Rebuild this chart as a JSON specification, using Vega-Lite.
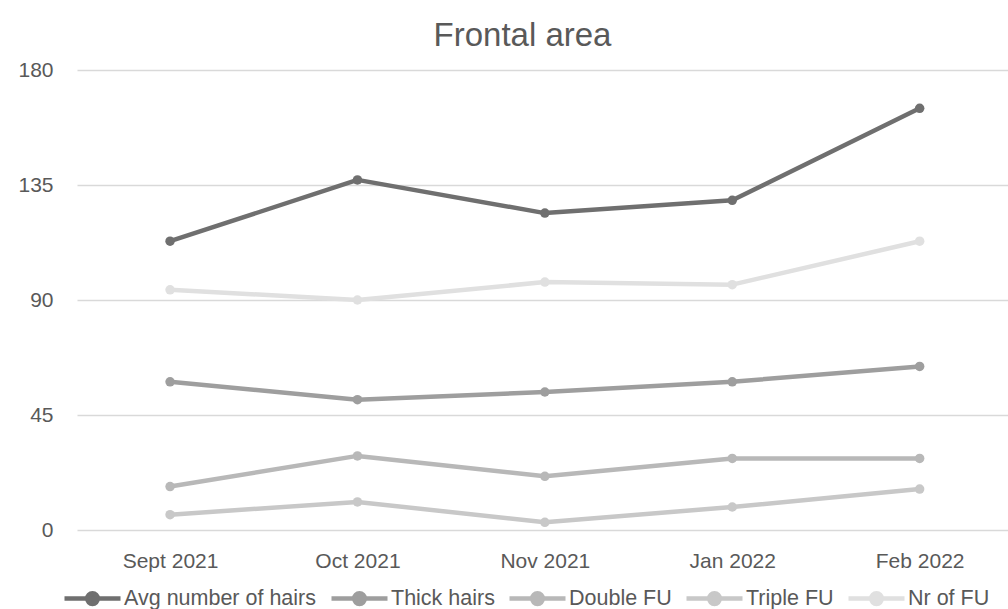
{
  "$schema": "https://vega.github.io/schema/vega-lite/v6.json",
  "width": 931,
  "height": 460,
  "autosize": {"type": "none"},
  "padding": {"left": 77, "top": 70, "right": 0, "bottom": 79},
  "background": "white",
  "config": {
    "view": {"stroke": null},
    "font": "Liberation Sans"
  },
  "title": {
    "text": "Frontal area",
    "fontSize": 33,
    "fontWeight": "normal",
    "color": "#595959",
    "font": "Liberation Sans",
    "frame": "group",
    "anchor": "middle",
    "baseline": "alphabetic",
    "offset": 24,
    "dx": -20,
    "dy": 44
  },
  "data": {
    "values": [
      {"month": "Sept 2021", "series": "Avg number of hairs", "value": 113},
      {"month": "Oct 2021", "series": "Avg number of hairs", "value": 137},
      {"month": "Nov 2021", "series": "Avg number of hairs", "value": 124},
      {"month": "Jan 2022", "series": "Avg number of hairs", "value": 129},
      {"month": "Feb 2022", "series": "Avg number of hairs", "value": 165},
      {"month": "Sept 2021", "series": "Thick hairs", "value": 58},
      {"month": "Oct 2021", "series": "Thick hairs", "value": 51},
      {"month": "Nov 2021", "series": "Thick hairs", "value": 54},
      {"month": "Jan 2022", "series": "Thick hairs", "value": 58},
      {"month": "Feb 2022", "series": "Thick hairs", "value": 64},
      {"month": "Sept 2021", "series": "Double FU", "value": 17},
      {"month": "Oct 2021", "series": "Double FU", "value": 29},
      {"month": "Nov 2021", "series": "Double FU", "value": 21},
      {"month": "Jan 2022", "series": "Double FU", "value": 28},
      {"month": "Feb 2022", "series": "Double FU", "value": 28},
      {"month": "Sept 2021", "series": "Triple FU", "value": 6},
      {"month": "Oct 2021", "series": "Triple FU", "value": 11},
      {"month": "Nov 2021", "series": "Triple FU", "value": 3},
      {"month": "Jan 2022", "series": "Triple FU", "value": 9},
      {"month": "Feb 2022", "series": "Triple FU", "value": 16},
      {"month": "Sept 2021", "series": "Nr of FU", "value": 94},
      {"month": "Oct 2021", "series": "Nr of FU", "value": 90},
      {"month": "Nov 2021", "series": "Nr of FU", "value": 97},
      {"month": "Jan 2022", "series": "Nr of FU", "value": 96},
      {"month": "Feb 2022", "series": "Nr of FU", "value": 113}
    ]
  },
  "encoding": {
    "x": {
      "field": "month",
      "type": "ordinal",
      "sort": ["Sept 2021", "Oct 2021", "Nov 2021", "Jan 2022", "Feb 2022"],
      "scale": {"type": "point", "padding": 0.484, "align": 0.513},
      "axis": {
        "title": null,
        "labelAngle": 0,
        "labelFontSize": 21,
        "labelColor": "#595959",
        "labelPadding": 20,
        "ticks": false,
        "domain": false,
        "grid": false
      }
    },
    "y": {
      "field": "value",
      "type": "quantitative",
      "scale": {"domain": [0, 180], "nice": false},
      "axis": {
        "title": null,
        "values": [0, 45, 90, 135, 180],
        "labelFontSize": 21,
        "labelColor": "#595959",
        "labelPadding": 24,
        "ticks": false,
        "domain": false,
        "grid": true,
        "gridColor": "#d9d9d9",
        "gridWidth": 1.5
      }
    },
    "color": {
      "field": "series",
      "type": "nominal",
      "sort": ["Avg number of hairs", "Thick hairs", "Double FU", "Triple FU", "Nr of FU"],
      "scale": {
        "domain": ["Avg number of hairs", "Thick hairs", "Double FU", "Triple FU", "Nr of FU"],
        "range": ["#6f6f6f", "#9e9e9e", "#b8b8b8", "#c8c8c8", "#e0e0e0"]
      },
      "legend": {
        "title": null,
        "orient": "none",
        "direction": "horizontal",
        "legendX": -15,
        "legendY": 498,
        "labelFontSize": 21.5,
        "labelColor": "#595959",
        "labelOffset": 1,
        "labelLimit": 400,
        "columnPadding": 5,
        "symbolType": "M-1,0L1,0M-0.19,0A0.19,0.19 0 1,1 0.19,0A0.19,0.19 0 1,1 -0.19,0Z",
        "symbolSize": 3136,
        "symbolStrokeWidth": 4.5,
        "encode": {
          "symbols": {
            "update": {
              "fill": {"scale": "color", "field": "value"},
              "stroke": {"scale": "color", "field": "value"},
              "strokeWidth": {"value": 4.5},
              "opacity": {"value": 1}
            }
          }
        }
      }
    }
  },
  "layer": [
    {
      "mark": {"type": "line", "strokeWidth": 4.5, "strokeCap": "round", "strokeJoin": "round"},
      "encoding": {"detail": {"field": "series"}}
    },
    {
      "mark": {"type": "point", "filled": true, "size": 90, "opacity": 1, "shape": "circle"}
    }
  ]
}
